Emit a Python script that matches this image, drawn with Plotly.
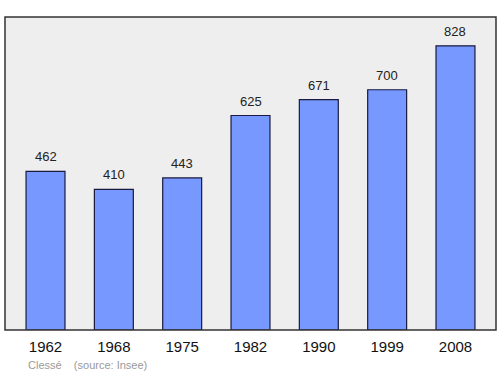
import plotly.graph_objects as go

years = ["1962", "1968", "1975", "1982", "1990", "1999", "2008"]
population = [462, 410, 443, 625, 671, 700, 828]
footer_text = "Clessé    (source: Insee)"

FONT = "Liberation Sans, Arial, sans-serif"

fig = go.Figure()
fig.add_trace(go.Bar(
    x=list(range(len(years))), y=population, width=0.57,
    marker=dict(color="#7799ff", line=dict(color="#1a1a40", width=1.2)),
    hoverinfo="skip",
))
for i, v in enumerate(population):
    fig.add_annotation(x=i, y=v, text=str(v), showarrow=False,
                       yanchor="bottom", yshift=5,
                       font=dict(family=FONT, size=13, color="#222222"))

fig.add_annotation(xref="paper", yref="paper", x=0.043, y=-0.087, xanchor="left", yanchor="top",
                   text=footer_text, showarrow=False,
                   font=dict(family=FONT, size=11, color="#999999"))

fig.add_shape(type="rect", xref="paper", yref="paper", x0=0, y0=0, x1=1, y1=1,
              line=dict(color="#333333", width=1.5), fillcolor="rgba(0,0,0,0)", layer="above")

fig.update_layout(
    width=500, height=374,
    margin=dict(l=5, r=4, t=17, b=44),
    paper_bgcolor="white", plot_bgcolor="#eeeeee",
    showlegend=False,
    xaxis=dict(range=[-0.593, 6.593], showgrid=False, ticks="", zeroline=False,
               tickmode="array", tickvals=list(range(len(years))), ticktext=years,
               tickfont=dict(family=FONT, size=15, color="#111111"), ticklabelstandoff=6),
    yaxis=dict(range=[0, 912], showgrid=False, showticklabels=False, zeroline=False, ticks=""),
)
fig.write_html("out.html")
